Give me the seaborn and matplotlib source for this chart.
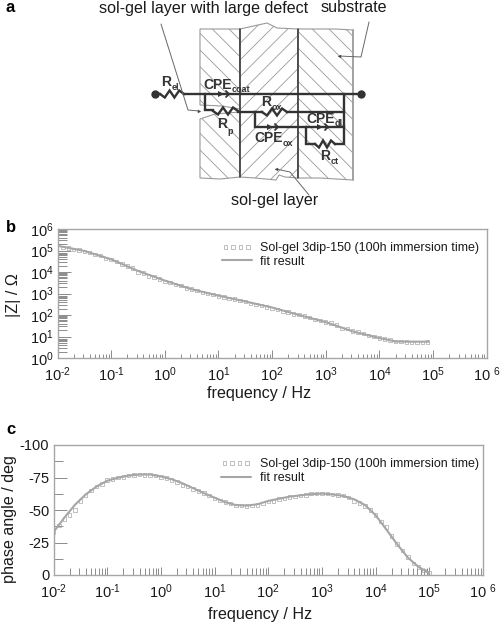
"""
Sol-gel coating: equivalent circuit sketch (a), Bode magnitude (b) and phase (c)
"""

import numpy as np
import pandas as pd
import matplotlib.pyplot as plt
from matplotlib.patches import Polygon
from matplotlib.ticker import FixedLocator, NullFormatter
import seaborn as sns

GRAY = "#a6a6a6"
DARK = "#333333"
TEXT = "#1a1a1a"

# ---------------------------------------------------------
# Data (exponents of frequency in Hz)
# ---------------------------------------------------------
fit_z_exp = [-2, -1.5, -1, -0.5, 0, 0.5, 1, 1.5, 2, 2.5, 3, 3.5, 4, 4.3, 4.5, 4.92]
fit_z_log = [5.22, 4.98, 4.59, 4.05, 3.6, 3.2, 2.9, 2.63, 2.35, 2.0, 1.67, 1.24,
             0.93, 0.77, 0.76, 0.76]

data_z_exp = [-1.9, -1.8, -1.7, -1.6, -1.5, -1.4, -1.3, -1.2, -1.1, -1.0, -0.9, -0.8,
              -0.7, -0.6, -0.5, -0.4, -0.3, -0.2, -0.1, 0.0, 0.1, 0.2, 0.3, 0.4,
              0.5, 0.6, 0.7, 0.8, 0.9, 1.0, 1.1, 1.2, 1.3, 1.4, 1.5, 1.6,
              1.7, 1.8, 1.9, 2.0, 2.1, 2.2, 2.3, 2.4, 2.5, 2.6, 2.7, 2.8,
              2.9, 3.0, 3.1, 3.2, 3.3, 3.4, 3.5, 3.6, 3.7, 3.8, 3.9, 4.0,
              4.1, 4.2, 4.3, 4.4, 4.5, 4.6, 4.7, 4.8, 4.9]
data_z_log = [5.14, 5.12, 5.06, 5.02, 4.96, 4.90, 4.82, 4.78, 4.64, 4.58, 4.50, 4.37,
              4.28, 4.18, 4.00, 3.95, 3.82, 3.76, 3.68, 3.56, 3.50, 3.42, 3.36, 3.26,
              3.20, 3.13, 3.06, 3.01, 2.95, 2.89, 2.84, 2.78, 2.74, 2.67, 2.62, 2.54,
              2.50, 2.44, 2.38, 2.31, 2.26, 2.16, 2.14, 2.04, 2.02, 1.95, 1.88, 1.80,
              1.74, 1.68, 1.62, 1.54, 1.38, 1.36, 1.26, 1.20, 1.14, 1.04, 1.00, 0.93,
              0.88, 0.84, 0.76, 0.76, 0.74, 0.72, 0.72, 0.72, 0.75]

fit_phase_exp = [-2, -1.8, -1.6, -1.4, -1.2, -1, -0.8, -0.6, -0.4, -0.2, 0, 0.2, 0.4,
                 0.6, 0.8, 1, 1.2, 1.4, 1.6, 1.8, 2, 2.4, 2.8, 3, 3.2, 3.4, 3.6,
                 3.8, 4, 4.2, 4.4, 4.6, 4.8, 5]
fit_phase = [-33, -44, -54, -62, -68, -72.5, -74.8, -76.5, -77.3, -77.3, -75.8, -73.7,
             -70.6, -66.8, -63, -59.5, -56, -53.8, -53.4, -54.4, -57, -60.3, -62.2,
             -62.6, -62, -60.8, -58.2, -53.9, -46, -35, -23.7, -13.4, -6.2, -1.5]

data_phase_exp = [-2.0, -1.9, -1.8, -1.7, -1.6, -1.5, -1.4, -1.3, -1.2, -1.1, -1.0, -0.9,
                  -0.8, -0.7, -0.6, -0.5, -0.4, -0.3, -0.2, -0.1, 0.0, 0.1, 0.2, 0.3,
                  0.4, 0.5, 0.6, 0.7, 0.8, 0.9, 1.0, 1.1, 1.2, 1.3, 1.4, 1.5,
                  1.6, 1.7, 1.8, 1.9, 2.0, 2.1, 2.2, 2.3, 2.4, 2.5, 2.6, 2.7,
                  2.8, 2.9, 3.0, 3.1, 3.2, 3.3, 3.4, 3.5, 3.6, 3.7, 3.8, 3.9,
                  4.0, 4.1, 4.2, 4.3, 4.4, 4.5, 4.6, 4.7, 4.8, 4.9, 5.0]
data_phase = [-33, -38, -43, -46, -50, -57, -61, -65, -68, -70, -73, -74,
              -75, -75.5, -76.5, -77, -77.3, -77, -77, -76.5, -75.5, -74.5, -73, -71.5,
              -69, -68, -66, -64.5, -63, -61, -59, -57.5, -56, -55, -53.5, -53.5,
              -53, -53.5, -54, -55, -56.5, -57, -58.5, -59, -60, -60.5, -61, -61.5,
              -62.5, -62.5, -62.5, -62.5, -62, -61.5, -61, -59.5, -57, -55.5, -53, -50,
              -46, -41, -37, -30, -24, -19, -14, -9, -6, -3.5, -1.5]

x_exps = [-2, -1, 0, 1, 2, 3, 4, 5, 6]
x_tick_labels = ["10$^{\\text{-}2}$", "10$^{\\text{-}1}$", "10$^{0}$", "10$^{1}$", "10$^{2}$",
                 "10$^{3}$", "10$^{4}$", "10$^{5}$", "10 $^{6}$"]
z_exps = [0, 1, 2, 3, 4, 5, 6]
z_tick_labels = ["10$^{0}$", "10$^{1}$", "10$^{2}$", "10$^{3}$", "10$^{4}$",
                 "10$^{5}$", "10$^{6}$"]
phase_ticks = [-100, -75, -50, -25, 0]
phase_tick_labels = ["-100", "-75", "-50", "-25", "0"]
phase_minor = [-87.5, -62.5, -37.5, -12.5]

data_label = "Sol-gel 3dip-150 (100h immersion time)"
fit_label = "fit result"

sns.set_theme(style="ticks")
plt.rcParams["font.family"] = ["Liberation Sans", "DejaVu Sans"]
plt.rcParams["mathtext.fontset"] = "custom"
plt.rcParams["mathtext.rm"] = "Liberation Sans"
plt.rcParams["mathtext.default"] = "regular"
plt.rcParams["hatch.linewidth"] = 0.6
plt.rcParams["hatch.color"] = "#8c8c8c"

W, H = 500, 623
fig = plt.figure(figsize=(W / 100, H / 100), dpi=100)


def px_axes(left, top, right, bottom):
    return fig.add_axes([left / W, 1 - bottom / H, (right - left) / W, (bottom - top) / H])


# ---------------------------------------------------------
# a: circuit sketch, drawn in picture pixels
# ---------------------------------------------------------
sk = fig.add_axes([0, 0, 1, 1])
sk.set_xlim(0, W)
sk.set_ylim(H, 0)
sk.axis("off")

regions = [
    ([(200, 29), (240, 29), (240, 109), (222, 106), (200, 105)], "\\\\"),
    ([(200, 119), (215, 114), (240, 112), (240, 177), (220, 179), (200, 178)], "\\\\"),
    ([(240, 29), (258, 25), (267, 23), (277, 28), (298, 29), (298, 178), (285, 177),
      (279, 175), (276, 180), (255, 178), (240, 177)], "//"),
    ([(298, 29), (335, 29), (353, 30), (353, 180), (320, 178), (298, 178)], "\\\\"),
]
for verts, hatch in regions:
    sk.add_patch(Polygon(verts, closed=True, facecolor="white", edgecolor="#9a9a9a",
                         hatch=hatch, linewidth=0.8))
sk.plot([353, 353], [30, 180], color="#a0a0a0", lw=1.3)
sk.plot([240, 240], [29, 177], color=DARK, lw=1.1)
sk.plot([298, 298], [29, 178], color=DARK, lw=1.1)


def wire(xs, ys):
    sk.plot(xs, ys, color=DARK, lw=1.7, solid_capstyle="projecting", solid_joinstyle="miter")


def zigzag(x0, x1, y, amp=3.5, teeth=2):
    xs = np.linspace(x0, x1, 2 * teeth + 2)
    ys = [y] + [y + (amp if i % 2 == 0 else -amp) for i in range(2 * teeth)] + [y]
    wire(xs, ys)


def cpe(x, y):
    sk.plot([x], [y], marker=">", ms=5, color=DARK, mew=0)
    sk.plot([x + 5, x + 8, x + 5], [y - 3, y, y + 3], color=DARK, lw=1.3)


# main line, with the oxide and double layer branches
wire([155, 160], [94, 94])
zigzag(160, 184, 94)
wire([184, 361], [94, 94])
wire([205, 205, 213], [94, 110, 110])
zigzag(213, 238, 111)
wire([238, 262], [112, 112])
zigzag(262, 287, 112)
wire([287, 344, 344], [112, 112, 94])
wire([344, 344, 335], [112, 144, 144])
wire([255, 255, 344], [112, 127, 127])
wire([306, 306, 315], [127, 144, 144])
zigzag(315, 335, 144)
cpe(221, 94)
cpe(270, 127)
cpe(320, 127)
sk.plot([155, 361], [94, 94], ls="none", marker="o", ms=6, color=DARK, mew=0)

# main letters and their subscripts, placed one by one
circuit_labels = [
    (161, 82, "R", 171.5, 87, "el"),
    (203, 85, "CPE", 231.5, 90, "coat"),
    (261, 102, "R", 271.5, 107, "ox"),
    (217, 124, "R", 227.5, 131, "p"),
    (254, 138, "CPE", 282.5, 143, "ox"),
    (306, 119, "CPE", 334.5, 124, "dl"),
    (320, 156, "R", 330.5, 161, "ct"),
]
for x, y, main, sx, sy, sub in circuit_labels:
    sk.text(x, y, main, fontsize=10, fontweight="bold", color=DARK, ha="left", va="center")
    sk.text(sx, sy, sub, fontsize=6.5, fontweight="bold", color=DARK, ha="left", va="center")

# leader lines
leaders = [
    ([161, 188, 199], [24, 110, 111]),
    ([369, 361, 339], [22, 57, 56]),
    ([309, 290, 276], [195, 172, 169]),
]
for xs, ys in leaders:
    sk.plot(xs, ys, color="#666666", lw=0.7)
    sk.plot(xs[-1], ys[-1], marker="<" if xs[-1] < xs[-2] else ">", ms=2.5, color="#444444", mew=0)

sk.text(204, 8, "sol-gel layer with large defect", fontsize=11.6, color=TEXT, ha="center", va="center")
sk.text(354, 8, "substrate", fontsize=11.6, color=TEXT, ha="center", va="center")
sk.text(275, 201, "sol-gel layer", fontsize=11.6, color=TEXT, ha="center", va="center")

sk.text(6, 8, "a", fontsize=12, fontweight="bold", color="black", ha="left", va="center")
sk.text(6, 228, "b", fontsize=12, fontweight="bold", color="black", ha="left", va="center")
sk.text(6, 429, "c", fontsize=12, fontweight="bold", color="black", ha="left", va="center")


# ---------------------------------------------------------
# b, c: Bode plots
# ---------------------------------------------------------
def draw_series(ax, data_x, data_y, fit_x, fit_y):
    fit_df = pd.DataFrame({"f": 10.0 ** np.array(fit_x), "y": fit_y})
    data_df = pd.DataFrame({"f": 10.0 ** np.array(data_x), "y": data_y})
    sns.scatterplot(data=data_df, x="f", y="y", ax=ax, marker="s", s=6, facecolors="none",
                    edgecolor=GRAY, linewidth=0.5, label=data_label, zorder=3)
    sns.lineplot(data=fit_df, x="f", y="y", ax=ax, color=GRAY, lw=1.5, label=fit_label,
                 zorder=4, errorbar=None)


def style_axes(ax, legend_x):
    ax.set_xscale("log")
    ax.set_xlim(1e-2, 1e6)
    ax.set_xticks([10.0 ** e for e in x_exps], x_tick_labels)
    ax.xaxis.set_minor_locator(FixedLocator([m * 10.0 ** e for e in x_exps[:-1] for m in range(2, 10)]))
    ax.xaxis.set_minor_formatter(NullFormatter())
    ax.set_xlabel("frequency / Hz", fontsize=11.6, color=TEXT)
    for side in ax.spines:
        ax.spines[side].set_visible(True)
        ax.spines[side].set_color(GRAY)
        ax.spines[side].set_linewidth(1.0)
    ax.tick_params(axis="both", which="both", direction="in", color="#8c8c8c", labelcolor=TEXT,
                   labelsize=10.5, width=0.7)
    ax.tick_params(axis="x", which="major", length=6, pad=5)
    ax.tick_params(axis="y", which="major", length=9, pad=3)
    ax.tick_params(axis="y", which="minor", length=6.5)
    ax.legend(loc="upper left", bbox_to_anchor=(legend_x, 0.945), frameon=False, fontsize=9,
              scatterpoints=4, scatteryoffsets=[0.5], handlelength=2.4, handletextpad=0.7,
              labelspacing=0.12, borderpad=0, labelcolor=TEXT)


ax_z = px_axes(57.5, 229, 486.7, 358)
draw_series(ax_z, data_z_exp, 10.0 ** np.array(data_z_log), fit_z_exp, 10.0 ** np.array(fit_z_log))
ax_z.set_yscale("log")
ax_z.set_ylim(1, 1e6)
ax_z.set_yticks([10.0 ** e for e in z_exps], z_tick_labels)
ax_z.yaxis.set_minor_locator(FixedLocator([m * 10.0 ** e for e in z_exps[:-1] for m in range(2, 10)]))
ax_z.yaxis.set_minor_formatter(NullFormatter())
ax_z.set_ylabel("|Z| / Ω", fontsize=11.6, color=TEXT)
style_axes(ax_z, 0.368)
ax_z.tick_params(axis="x", which="minor", length=3)
ax_z.xaxis.set_label_coords(0.47, -0.217)
ax_z.yaxis.set_label_coords(-0.085, 0.49)

ax_ph = px_axes(53.5, 445, 483, 575)
draw_series(ax_ph, data_phase_exp, data_phase, fit_phase_exp, fit_phase)
ax_ph.set_ylim(0, -100)
ax_ph.set_yticks(phase_ticks, phase_tick_labels)
ax_ph.yaxis.set_minor_locator(FixedLocator(phase_minor))
ax_ph.set_ylabel("phase angle / deg", fontsize=11.6, color=TEXT)
style_axes(ax_ph, 0.375)
ax_ph.tick_params(axis="x", which="minor", length=5)
ax_ph.xaxis.set_label_coords(0.48, -0.246)
ax_ph.yaxis.set_label_coords(-0.085, 0.43)

fig.savefig("out.png", dpi=100)
plt.close(fig)
